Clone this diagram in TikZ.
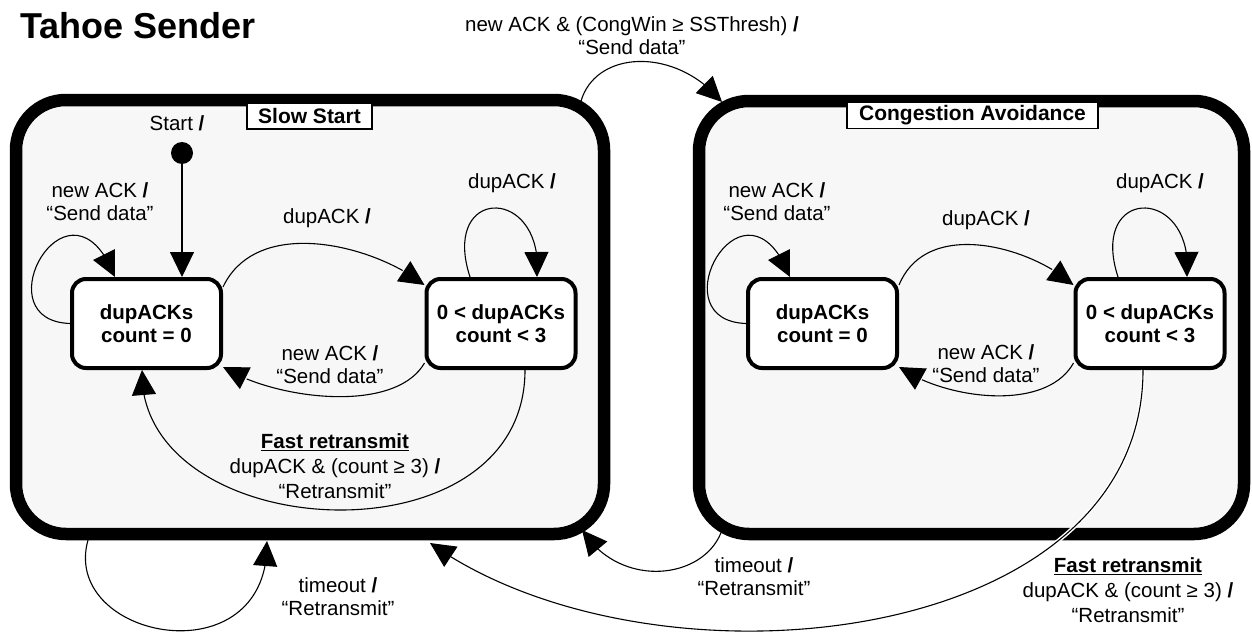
\documentclass[tikz,border=0pt]{standalone}
\usepackage{fontspec}
\setmainfont{Liberation Sans}
\usetikzlibrary{arrows.meta,bending}
\definecolor{panel}{HTML}{F7F7F7}
\begin{document}
\begin{tikzpicture}[x=1pt,y=-1pt,
  every node/.style={inner sep=0pt, outer sep=0pt},
  lbl/.style={align=center, font=\fontsize{20.5}{23}\selectfont},
  lblthree/.style={align=center, font=\fontsize{20.5}{25}\selectfont},
  state/.style={draw, line width=4pt, rounded corners=14pt, fill=white, align=center,
    minimum width=149pt, minimum height=89pt, outer sep=2pt,
    font=\fontsize{20.5}{23}\selectfont\bfseries},
  region/.style={draw, line width=12.5pt, rounded corners=50pt, fill=panel},
  tag/.style={draw, line width=1.5pt, fill=white, minimum height=26pt,
    font=\fontsize{21}{24}\selectfont\bfseries},
  arr/.style={line width=1.1pt, -{Triangle[length=25pt,width=24pt]}},
  halo/.style={line width=4pt, white},
]
\useasboundingbox (0,0) rectangle (1252,634);

% regions
\node[region, minimum width=588pt, minimum height=434pt] (ss) at (310,317) {};
\node[region, minimum width=545pt, minimum height=433pt] (ca) at (971.5,317.5) {};
\node[tag, minimum width=125pt] (sstag) at (309.5,116) {Slow Start};
\node[tag, minimum width=251pt] (catag) at (972.5,115.5) {Congestion Avoidance};

% title
\node[anchor=base west, font=\fontsize{36}{40}\selectfont\bfseries] (title) at (20,39) {Tahoe Sender};

% states
\node[state] (s0) at (146.5,323.5) {dupACKs\\count = 0};
\node[state] (s1) at (501,323.5) {0 < dupACKs\\count < 3};
\node[state] (c0) at (822.5,323.5) {dupACKs\\count = 0};
\node[state] (c1) at (1150,323.5) {0 < dupACKs\\count < 3};

% start
\node[circle, fill=black, minimum size=22pt] (dot) at (182,153) {};
\node[lbl] (startlbl) at (177,123) {Start \textbf{/}};
\draw[arr] (dot) -- (dot |- s0.north);

% slow start transitions
\draw[arr] (s0.west) .. controls +(-90,-3) and +(-45,-115) .. ([shift={(-31.5,0)}]s0.north);
\draw[arr] ([shift={(0,10)}]s0.north east) .. controls +(34,-72) and +(-50,-40) .. ([shift={(0,8)}]s1.north west);
\draw[arr] ([shift={(-31,0)}]s1.north) .. controls +(-30,-92) and +(8,-92) .. ([shift={(36,0)}]s1.north);
\draw[arr] ([shift={(0,-7)}]s1.south west) .. controls +(-30,52) and +(50,32) .. ([shift={(0,-3)}]s0.south east);
\draw[arr] ([shift={(24,0)}]s1.south) .. controls +(0,198) and +(-5,175) .. ([shift={(-4.5,0)}]s0.south);

% congestion avoidance transitions
\draw[arr] (c0.west) .. controls +(-90,-3) and +(-45,-115) .. ([shift={(-32.5,0)}]c0.north);
\draw[arr] ([shift={(0,8)}]c0.north east) .. controls +(28,-68) and +(-42,-38) .. ([shift={(0,8)}]c1.north west);
\draw[arr] ([shift={(-32,0)}]c1.north) .. controls +(-30,-92) and +(8,-92) .. ([shift={(37,0)}]c1.north);
\draw[arr] ([shift={(0,-7)}]c1.south west) .. controls +(-28,50) and +(45,32) .. ([shift={(0,-3)}]c0.south east);

% region transitions
\draw[arr] ([shift={(-24,5)}]ss.north east) .. controls +(12,-55) and +(-47,-57) .. ([shift={(23,1)}]ca.north west);
\draw[arr] ([shift={(72,6)}]ss.south west) .. controls +(-28,100) and +(3,139) .. ([shift={(251,7)}]ss.south west);
\draw[arr] ([shift={(23,-4)}]ca.south west) .. controls +(-17,50) and +(38,60) .. ([shift={(-22,-4)}]ss.south east);
\draw[halo] ([shift={(-7,0)}]c1.south) .. controls +(0,280) and +(220,157) .. ([shift={(120,9)}]ss.south);
\draw[arr] ([shift={(-7,0)}]c1.south) .. controls +(0,280) and +(220,157) .. ([shift={(120,9)}]ss.south);

% labels
\node[lbl] (l1) at (100,201.5) {new ACK \textbf{/}\\“Send data”};
\node[lbl] (l2) at (327,218) {dupACK \textbf{/}};
\node[lbl] (l3) at (512,183) {dupACK \textbf{/}};
\node[lbl] (l4) at (330,365) {new ACK \textbf{/}\\“Send data”};
\node[lblthree] (l5) at (335,466) {\textbf{\underline{Fast retransmit}}\\dupACK \& (count ≥ 3) \textbf{/}\\“Retransmit”};
\node[lbl] (l6) at (338,596.5) {timeout \textbf{/}\\“Retransmit”};
\node[lbl] (l7) at (632,36) {new ACK \& (CongWin ≥ SSThresh) \textbf{/}\\“Send data”};
\node[lbl] (l8) at (754,576.5) {timeout \textbf{/}\\“Retransmit”};
\node[lblthree] (l9) at (1128,590) {\textbf{\underline{Fast retransmit}}\\dupACK \& (count ≥ 3) \textbf{/}\\“Retransmit”};
\node[lbl] (l10) at (777,201.5) {new ACK \textbf{/}\\“Send data”};
\node[lbl] (l11) at (986,220) {dupACK \textbf{/}};
\node[lbl] (l12) at (1160,183) {dupACK \textbf{/}};
\node[lbl] (l13) at (986,364) {new ACK \textbf{/}\\“Send data”};
\end{tikzpicture}
\end{document}
